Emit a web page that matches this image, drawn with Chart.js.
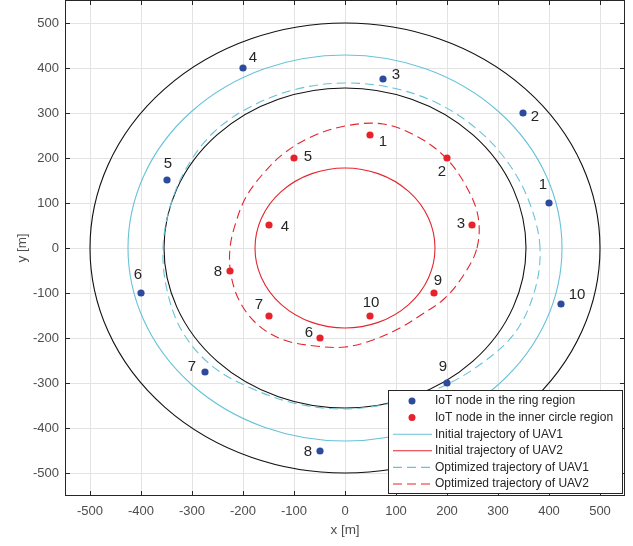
<!DOCTYPE html>
<html>
<head>
<meta charset="utf-8">
<script src="https://cdn.jsdelivr.net/npm/chart.js@4.4.0/dist/chart.umd.min.js"></script>
<style>
  html, body { margin: 0; padding: 0; background: #fff; }
  #wrap { width: 633px; height: 546px; position: relative; }
</style>
</head>
<body>
<div id="wrap"><canvas id="myChart" width="633" height="546"></canvas></div>
<script>
// IoT nodes in the ring region (served by UAV1)
const ringIds = ['1', '2', '3', '4', '5', '6', '7', '8', '9', '10'];
const ringX = [400, 350, 75, -200, -350, -400, -275, -50, 200, 425];
const ringY = [100, 300, 375, 400, 150, -100, -275, -450, -300, -125];

// IoT nodes in the inner circle region (served by UAV2)
const innerIds = ['1', '2', '3', '4', '5', '6', '7', '8', '9', '10'];
const innerX = [50, 200, 250, -150, -100, -50, -150, -225, 175, 50];
const innerY = [250, 200, 50, 50, 200, -200, -150, -50, -100, -150];

// region boundaries and initial circular trajectories (radius in m)
const boundaryRadii = [500, 355];
const initRadiusUAV1 = 427;
const initRadiusUAV2 = 177;

// optimized trajectories (closed loops)
const optUAV1X = [384, 364, 322, 262, 185, 95, 0, -94, -182, -257, -310, -344, -358, -350, -320, -262, -181, -93, 0, 92, 180, 262, 331, 372];
const optUAV1Y = [0, 98, 186, 262, 320, 354, 365, 352, 315, 257, 179, 92, 0, -94, -185, -262, -313, -346, -357, -343, -312, -262, -191, -100];

const optUAV2X = [259, 261, 238, 199, 143, 74, 0, -66, -121, -163, -194, -215, -225, -224, -206, -171, -119, -58, 0, 55, 104, 149, 194, 232];
const optUAV2Y = [0, 70, 138, 199, 247, 275, 270, 246, 209, 163, 112, 58, 0, -60, -119, -171, -205, -218, -219, -204, -179, -149, -112, -62];

const axisTicks = [-500, -400, -300, -200, -100, 0, 100, 200, 300, 400, 500];

const legendLabels = [
  'IoT node in the ring region',
  'IoT node in the inner circle region',
  'Initial trajectory of UAV1',
  'Initial trajectory of UAV2',
  'Optimized trajectory of UAV1',
  'Optimized trajectory of UAV2'
];

// styling
const BLUE = '#2c4a9e';
const RED = '#e8222b';
const CYAN = '#68c3d8';
const LINE_RED = '#e3262d';
const DARK = '#262626';
const FONT = '"Liberation Sans", Arial, Helvetica, sans-serif';
const DASH = [9, 5];

// label offsets in px from each node (dx, dy)
const ringLabelOffset = [[-6, -18], [12, 4], [13, -4], [10, -10], [1, -16], [-3, -18], [-13, -5], [-12, 1], [-4, -16], [16, -9]];
const innerLabelOffset = [[13, 7], [-5, 14], [-11, -1], [16, 2], [14, -1], [-11, -5], [-10, -11], [-12, 1], [4, -12], [1, -13]];

const toPoints = (xs, ys) => xs.map((v, i) => ({ x: v, y: ys[i] }));

const extras = {
  id: 'extras',
  afterDatasetUpdate(chart, args) {
    // close the optimized trajectories into smooth loops
    if (chart.data.datasets[args.index].closedLoop) {
      args.meta.dataset._loop = true;
      args.meta.dataset._fullLoop = true;
    }
  },
  beforeDatasetsDraw(chart) {
    const { ctx, chartArea: a, scales: { x, y } } = chart;
    ctx.save();
    ctx.beginPath();
    ctx.rect(a.left, a.top, a.right - a.left, a.bottom - a.top);
    ctx.clip();
    const cx = x.getPixelForValue(0), cy = y.getPixelForValue(0);
    const circles = [
      { r: boundaryRadii[0], color: '#111' },
      { r: boundaryRadii[1], color: '#111' },
      { r: initRadiusUAV1, color: CYAN },
      { r: initRadiusUAV2, color: LINE_RED }
    ];
    circles.forEach(c => {
      const rx = x.getPixelForValue(c.r) - cx;
      const ry = cy - y.getPixelForValue(c.r);
      ctx.beginPath();
      ctx.ellipse(cx, cy, rx, ry, 0, 0, Math.PI * 2);
      ctx.strokeStyle = c.color;
      ctx.lineWidth = 1.1;
      ctx.stroke();
    });
    ctx.restore();
  },
  afterDatasetsDraw(chart) {
    const { ctx, chartArea: a, scales: { x, y } } = chart;
    ctx.save();
    // node labels
    ctx.font = '15px ' + FONT;
    ctx.fillStyle = DARK;
    ctx.textAlign = 'center';
    ctx.textBaseline = 'middle';
    ringIds.forEach((t, i) => {
      ctx.fillText(t, x.getPixelForValue(ringX[i]) + ringLabelOffset[i][0], y.getPixelForValue(ringY[i]) + ringLabelOffset[i][1]);
    });
    innerIds.forEach((t, i) => {
      ctx.fillText(t, x.getPixelForValue(innerX[i]) + innerLabelOffset[i][0], y.getPixelForValue(innerY[i]) + innerLabelOffset[i][1]);
    });
    // frame and inward tick marks
    ctx.strokeStyle = DARK;
    ctx.lineWidth = 1;
    ctx.strokeRect(a.left + 0.5, a.top + 0.5, a.right - a.left - 1, a.bottom - a.top - 1);
    ctx.beginPath();
    axisTicks.forEach(v => {
      const px = Math.round(x.getPixelForValue(v)) + 0.5;
      ctx.moveTo(px, a.bottom); ctx.lineTo(px, a.bottom - 5);
      ctx.moveTo(px, a.top); ctx.lineTo(px, a.top + 5);
      const py = Math.round(y.getPixelForValue(v)) + 0.5;
      ctx.moveTo(a.left, py); ctx.lineTo(a.left + 5, py);
      ctx.moveTo(a.right, py); ctx.lineTo(a.right - 5, py);
    });
    ctx.stroke();
    // axis titles
    ctx.font = '13.5px ' + FONT;
    ctx.fillStyle = '#4d4d4d';
    ctx.fillText('x [m]', (a.left + a.right) / 2, a.bottom + 34);
    ctx.translate(22, (a.top + a.bottom) / 2);
    ctx.rotate(-Math.PI / 2);
    ctx.fillText('y [m]', 0, 0);
    ctx.restore();
  },
  afterDraw(chart) {
    const { ctx, chartArea: a } = chart;
    const w = 234, h = 103;
    const left = a.right - 3 - w, top = a.bottom - 3 - h;
    ctx.save();
    ctx.fillStyle = '#fff';
    ctx.fillRect(left, top, w, h);
    ctx.strokeStyle = DARK;
    ctx.lineWidth = 1;
    ctx.strokeRect(left + 0.5, top + 0.5, w, h);
    const styles = [
      { kind: 'pt', color: BLUE },
      { kind: 'pt', color: RED },
      { kind: 'ln', color: CYAN, dash: [] },
      { kind: 'ln', color: LINE_RED, dash: [] },
      { kind: 'ln', color: CYAN, dash: DASH },
      { kind: 'ln', color: LINE_RED, dash: DASH }
    ];
    ctx.font = '12px ' + FONT;
    ctx.textAlign = 'left';
    ctx.textBaseline = 'middle';
    legendLabels.forEach((lab, i) => {
      const cy = top + 11 + i * 16.6;
      const s = styles[i];
      if (s.kind === 'pt') {
        ctx.beginPath();
        ctx.arc(left + 24, cy, 3.5, 0, Math.PI * 2);
        ctx.fillStyle = s.color;
        ctx.fill();
      } else {
        ctx.beginPath();
        ctx.setLineDash(s.dash);
        ctx.moveTo(left + 5, cy);
        ctx.lineTo(left + 44, cy);
        ctx.strokeStyle = s.color;
        ctx.lineWidth = 1.1;
        ctx.stroke();
        ctx.setLineDash([]);
      }
      ctx.fillStyle = DARK;
      ctx.fillText(lab, left + 47, cy);
    });
    ctx.restore();
  }
};

const tickFont = { family: FONT, size: 13 };
const noPad = s => { s.paddingTop = 0; s.paddingBottom = 0; s.paddingLeft = 0; s.paddingRight = 0; };

new Chart(document.getElementById('myChart'), {
  type: 'scatter',
  data: {
    datasets: [
      {
        label: legendLabels[0],
        data: toPoints(ringX, ringY),
        backgroundColor: BLUE,
        borderWidth: 0,
        pointRadius: 3.6
      },
      {
        label: legendLabels[1],
        data: toPoints(innerX, innerY),
        backgroundColor: RED,
        borderWidth: 0,
        pointRadius: 3.6
      },
      {
        label: legendLabels[4],
        data: toPoints(optUAV1X, optUAV1Y),
        closedLoop: true,
        showLine: true,
        borderColor: CYAN,
        borderWidth: 1.1,
        borderDash: DASH,
        tension: 0.35,
        pointRadius: 0
      },
      {
        label: legendLabels[5],
        data: toPoints(optUAV2X, optUAV2Y),
        closedLoop: true,
        showLine: true,
        borderColor: LINE_RED,
        borderWidth: 1.1,
        borderDash: DASH,
        tension: 0.35,
        pointRadius: 0
      }
    ]
  },
  options: {
    responsive: false,
    animation: false,
    devicePixelRatio: 1,
    layout: { autoPadding: false, padding: { top: 0, right: 8, bottom: 0, left: 0 } },
    plugins: { legend: { display: false }, tooltip: { enabled: false } },
    scales: {
      x: {
        type: 'linear',
        min: -550, max: 550,
        alignToPixels: true,
        afterBuildTicks: s => { s.ticks = axisTicks.map(v => ({ value: v })); },
        afterFit: s => { s.height = 50; noPad(s); },
        grid: { color: '#e3e3e3', drawTicks: false },
        border: { display: false },
        ticks: { color: '#4d4d4d', font: tickFont, padding: 8, maxRotation: 0, callback: v => String(v) }
      },
      y: {
        type: 'linear',
        min: -550, max: 550,
        alignToPixels: true,
        afterBuildTicks: s => { s.ticks = axisTicks.map(v => ({ value: v })); },
        afterFit: s => { s.width = 65; noPad(s); },
        grid: { color: '#e3e3e3', drawTicks: false },
        border: { display: false },
        ticks: { color: '#4d4d4d', font: tickFont, padding: 6, callback: v => String(v) }
      }
    }
  },
  plugins: [extras]
});
</script>
</body>
</html>
